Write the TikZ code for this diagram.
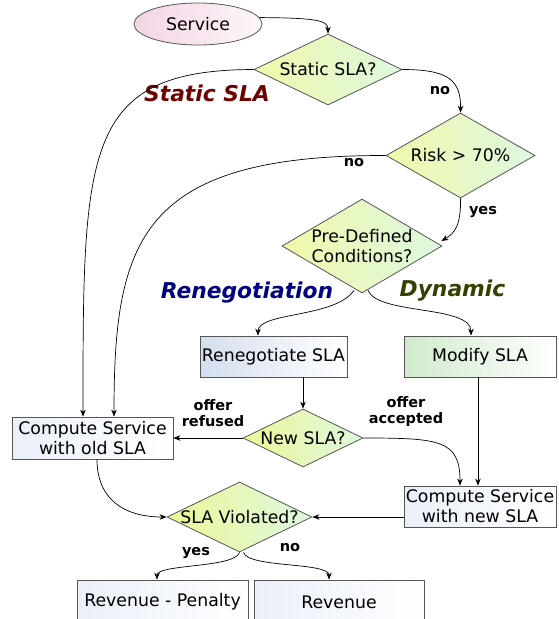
\documentclass[tikz,border=0pt]{standalone}
\usepackage{fontspec}
\setmainfont{DejaVu Sans}
\usetikzlibrary{shapes.geometric,arrows.meta,calc}
\definecolor{bordercol}{RGB}{85,85,85}
\definecolor{pinkL}{RGB}{243,212,228}
\definecolor{pinkR}{RGB}{253,246,250}
\definecolor{diaL}{RGB}{240,248,170}
\definecolor{diaR}{RGB}{222,248,224}
\definecolor{diaLs}{RGB}{236,247,150}
\definecolor{renL}{RGB}{212,222,238}
\definecolor{modL}{RGB}{208,234,204}
\definecolor{boxL}{RGB}{234,240,249}
\definecolor{staticcol}{RGB}{110,0,0}
\definecolor{renegcol}{RGB}{0,0,128}
\definecolor{dyncol}{RGB}{51,66,0}
\newcommand\mainfs{\fontsize{17.3}{20}\selectfont}
\newcommand\lblfs{\fontsize{14.5}{16}\selectfont\bfseries}
\newcommand\sectfs{\fontsize{21.8}{24}\selectfont\bfseries\itshape}
\begin{document}
\begin{tikzpicture}[x=1pt,y=-1pt,
  base/.style={draw=bordercol, line width=0.8pt, inner sep=0pt, font=\mainfs},
  boxnode/.style={base, rectangle, align=center, left color=boxL, right color=white},
  dianode/.style={base, diamond, left color=diaL, right color=diaR},
  txt/.style={inner sep=0pt, font=\mainfs, align=center},
  lbl/.style={inner sep=0pt, font=\lblfs, align=center},
  sect/.style={inner sep=0pt, font=\sectfs},
  arr/.style={-{Stealth[length=7pt,width=5.5pt]}, line width=0.7pt, black}]
\useasboundingbox (0,0) rectangle (558,619);
\clip (0,0) rectangle (558,619);

% nodes
\node[base, ellipse, minimum width=128pt, minimum height=42pt, left color=pinkL, right color=pinkR] (svc) at (198,24) {Service};
\node[dianode, minimum width=148pt, minimum height=71pt] (d1) at (328,69.5) {};
\node[txt] (d1t) at (d1) {Static SLA?};
\node[dianode, minimum width=149pt, minimum height=85pt] (d2) at (460.5,155.5) {};
\node[txt] (d2t) at (d2) {Risk > 70\%};
\node[dianode, minimum width=160pt, minimum height=94pt] (d3) at (362,246) {};
\node[txt] (d3t) at (d3) {Pre-Defined\\Conditions?};
\node[base, rectangle, minimum width=147pt, minimum height=41pt, left color=renL, right color=white] (ren) at (273.5,356.5) {Renegotiate SLA};
\node[base, rectangle, minimum width=152pt, minimum height=41pt, left color=modL, right color=white] (mod) at (480,356.5) {Modify SLA};
\node[boxnode, minimum width=161pt, minimum height=42pt] (old) at (92.5,438) {Compute Service\\with old SLA};
\node[dianode, left color=diaLs, minimum width=120pt, minimum height=58pt] (d4) at (303,438) {};
\node[txt] (d4t) at (d4) {New SLA?};
\node[boxnode, minimum width=152pt, minimum height=41pt] (new) at (480,506.5) {Compute Service\\with new SLA};
\node[dianode, left color=diaLs, minimum width=145pt, minimum height=70pt] (d5) at (239.5,517) {};
\node[txt] (d5t) at (d5) {SLA Violated?};
\node[boxnode, minimum width=171pt, minimum height=44pt] (rp) at (162.5,602) {Revenue - Penalty};
\node[boxnode, minimum width=170pt, minimum height=44pt] (rev) at (339,602) {Revenue};

% section labels
\node[sect, text=staticcol] (lstatic) at (207,93) {Static SLA};
\node[sect, text=renegcol] (lreneg) at (247,293) {Renegotiation};
\node[sect, text=dyncol] (ldyn) at (452.5,291) {Dynamic};

% edge labels
\node[lbl] (lno1) at (440,91) {no};
\node[lbl] (lno2) at (354,163) {no};
\node[lbl] (lyes1) at (483,212) {yes};
\node[lbl] (lref) at (213,413) {offer\\refused};
\node[lbl] (lacc) at (406,411) {offer\\accepted};
\node[lbl] (lyes2) at (196,553) {yes};
\node[lbl] (lno3) at (290,548) {no};

% connectors
\draw[arr] (svc.6) .. controls (315,18) and (328,20) .. (d1.north);
\draw[arr] (d1.east) .. controls (448,69.5) and (461,80) .. (d2.north);
\draw[arr] (d1.west) .. controls (83,70) and (83,150) .. ($(old.north)+(-9.5,0)$);
\draw[arr] (d2.west) .. controls (140,155) and (114,240) .. ($(old.north)+(21.5,0)$);
\draw[arr] (d2.south) .. controls (461,225) and (455,233) .. ($(d3.east)+(-1,-5)$);
\draw[arr] ($(d3.south)+(-8,-3)$) .. controls (335,318) and (258,312) .. ($(ren.north)+(-15.5,0)$);
\draw[arr] ($(d3.south)+(6,-3)$) .. controls (378,315) and (471,305) .. ($(mod.north)+(-9,0)$);
\draw[arr] (d4.north |- ren.south) -- (d4.north);
\draw[arr] (d4.west) -- (old.east);
\draw[arr] (d4.east) .. controls (440,438) and (460,440) .. ($(new.north)+(-20,0)$);
\draw[arr] ($(mod.south)+(-2,0)$) -- ($(new.north)+(-2,0)$);
\draw[arr] ($(old.south)+(4.5,0)$) .. controls (97,500) and (125,517) .. (d5.west);
\draw[arr] (d5.east -| new.west) -- (d5.east);
\draw[arr] (d5.south) .. controls (235,568) and (157,564) .. ($(rp.north)+(-5.5,0)$);
\draw[arr] ($(d5.south)+(4,0)$) .. controls (248,568) and (329,562) .. ($(rev.north)+(-10,0)$);
\end{tikzpicture}
\end{document}
